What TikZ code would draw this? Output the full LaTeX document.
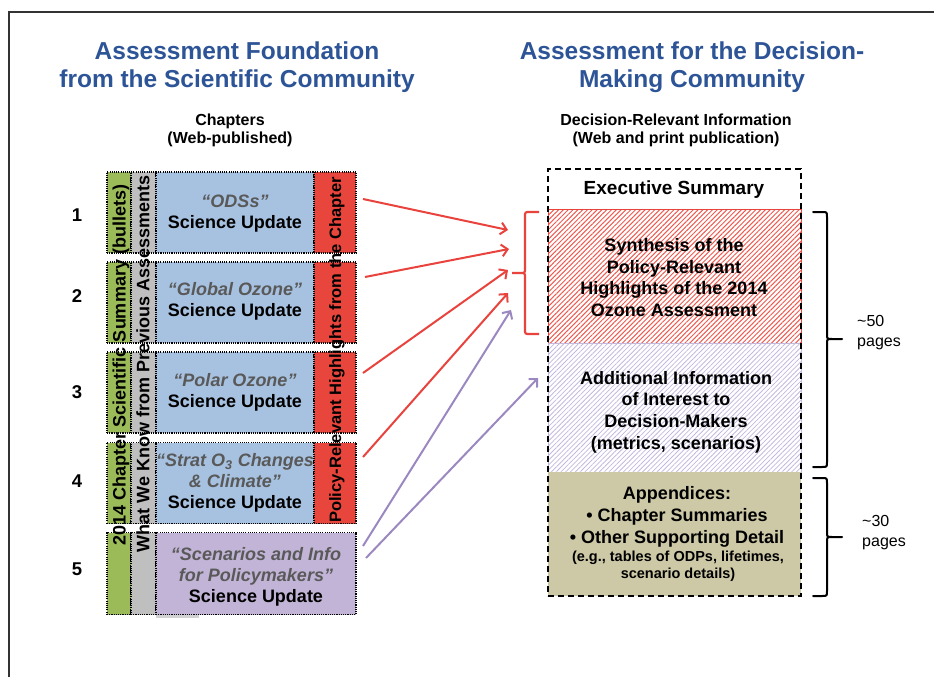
\documentclass[tikz,border=0pt]{standalone}
\usepackage{fontspec}
\setmainfont{Liberation Sans}
\usetikzlibrary{arrows.meta,patterns.meta}
\definecolor{hblue}{RGB}{44,84,150}
\definecolor{cgreen}{RGB}{155,187,89}
\definecolor{cgray}{RGB}{191,191,191}
\definecolor{cblue}{RGB}{167,194,224}
\definecolor{cred}{RGB}{232,69,60}
\definecolor{cpurple}{RGB}{194,180,214}
\definecolor{ctan}{RGB}{205,201,166}
\definecolor{arred}{RGB}{232,67,61}
\definecolor{hatchred}{RGB}{236,90,80}
\definecolor{arpurple}{RGB}{155,136,192}
\definecolor{hatchpurple}{RGB}{196,184,222}
\definecolor{qgray}{RGB}{89,89,89}
\begin{document}
\begin{tikzpicture}[x=1pt,y=-1pt,
  seg/.style={draw=black, line width=1.1pt, dash pattern=on 1.1pt off 1.1pt,
    inner sep=0pt, outer sep=0pt, minimum height=81pt},
  gseg/.style={seg, fill=cgreen, minimum width=24pt},
  yseg/.style={seg, fill=cgray, minimum width=25pt},
  bseg/.style={seg, fill=cblue, minimum width=158pt},
  rseg/.style={seg, fill=cred, minimum width=42pt},
  pseg/.style={seg, fill=cpurple, minimum width=200pt, minimum height=82pt},
  heading/.style={text=hblue, font=\fontsize{24.5}{28}\selectfont\bfseries, align=center},
  subhead/.style={font=\fontsize{16}{18}\selectfont\bfseries, align=center},
  num/.style={font=\fontsize{18.5}{20}\selectfont\bfseries},
  boxtxt/.style={font=\fontsize{18}{21}\selectfont\bfseries, align=center, inner sep=0pt},
  vtxt/.style={rotate=90, font=\fontsize{18}{21}\selectfont\bfseries, inner sep=0pt},
  rtxt/.style={font=\fontsize{18}{21.7}\selectfont\bfseries, align=center, inner sep=0pt},
  smalltxt/.style={font=\fontsize{14.5}{17}\selectfont\bfseries, align=center, inner sep=0pt},
  pages/.style={font=\fontsize{16}{20}\selectfont, align=left, anchor=west, inner sep=0pt},
  redarrow/.style={draw=arred, line width=2pt, -{Straight Barb[length=6pt,width=12pt]}},
  purarrow/.style={draw=arpurple, line width=2pt, -{Straight Barb[length=6pt,width=12pt]}},
  brace/.style={line width=2pt, line cap=round},
  rbox/.style={inner sep=0pt, outer sep=0pt, minimum width=253pt}
]
\useasboundingbox (0,0) rectangle (934,677);
% frame
\draw[line width=1.5pt, black!80] (9,677) -- (9,12) -- (934,12);

% headings
\node[heading] (hl) at (237,67) {Assessment Foundation\\from the Scientific Community};
\node[heading] (hr) at (692,67) {Assessment for the Decision-\\Making Community};
\node[subhead] (sl) at (230,130.5) {Chapters\\(Web-published)};
\node[subhead] (sr) at (676,130.5) {Decision-Relevant Information\\(Web and print publication)};

% chapter rows
\fill[gray!35] (156,614) rectangle (199,618);
\foreach \r/\cy in {1/212.5,2/302.5,3/392.5,4/483}{
  \node[gseg] (g\r) at (119,\cy) {};
  \node[yseg] (y\r) at (143.5,\cy) {};
  \node[bseg] (b\r) at (235,\cy) {};
  \node[rseg] (r\r) at (335,\cy) {};
}
\node[gseg, minimum height=82pt] (g5) at (119,573.5) {};
\node[yseg, minimum height=82pt] (y5) at (143.5,573.5) {};
\node[pseg] (p5) at (256,573.5) {};

% numbers
\node[num] (n1) at (77,215) {1};
\node[num] (n2) at (77,296) {2};
\node[num] (n3) at (77,392) {3};
\node[num] (n4) at (77,481) {4};
\node[num] (n5) at (77,569) {5};

% blue box texts
\node[boxtxt] (t1) at (235,214) {{\color{qgray}\itshape “ODSs”}\\Science Update};
\node[boxtxt] (t2) at (235,301) {{\color{qgray}\itshape “Global Ozone”}\\Science Update};
\node[boxtxt] (t3) at (235,392) {{\color{qgray}\itshape “Polar Ozone”}\\Science Update};
\node[boxtxt] (t4) at (235,482.5) {{\color{qgray}\itshape “Strat O\textsubscript{3} Changes}\\{\color{qgray}\itshape \& Climate”}\\Science Update};
\node[boxtxt] (t5) at (256,577) {{\color{qgray}\itshape “Scenarios and Info}\\{\color{qgray}\itshape for Policymakers”}\\Science Update};

% vertical texts
\node[vtxt] (vg) at (121,365) {2014 Chapter Scientific Summary (bullets)};
\node[vtxt] (vy) at (143,364) {What We Know from Previous Assessments};
\node[vtxt, font=\fontsize{16.5}{19}\selectfont\bfseries] (vr) at (337,350) {Policy-Relevant Highlights from the Chapter};

% right column
\node[rbox, minimum height=134pt, pattern={Lines[angle=45,distance=3.4pt,line width=1pt]}, pattern color=hatchred] (syn) at (674.5,276) {};
\draw[arred, line width=0.8pt] (syn.south west) rectangle (syn.north east);
\node[rbox, minimum height=129pt, pattern={Lines[angle=45,distance=3.4pt,line width=0.8pt]}, pattern color=hatchpurple] (add) at (674.5,407.5) {};
\draw[hatchpurple, line width=0.8pt] (add.south west) rectangle (add.north east);
\node[rbox, minimum height=124pt, fill=ctan] (app) at (674.5,534) {};
\node[rbox, minimum height=427pt, draw=black, line width=1.6pt, dash pattern=on 6pt off 4pt] (exec) at (674.5,382.5) {};

\node[boxtxt, font=\fontsize{19}{22}\selectfont\bfseries] (et) at (674,190) {Executive Summary};
\node[rtxt] (st) at (674,277.5) {Synthesis of the\\Policy-Relevant\\Highlights of the 2014\\Ozone Assessment};
\node[rtxt] (at) at (676,412) {Additional Information\\of Interest to\\Decision-Makers\\(metrics, scenarios)};
\node[rtxt] (pt) at (677,517) {Appendices:\\• Chapter Summaries\\• Other Supporting Detail};
\node[smalltxt] (pt2) at (678,566) {(e.g., tables of ODPs, lifetimes,\\scenario details)};

% red bracket
\draw[arred, line width=2.2pt] (539,212) -- (530,212) .. controls (525,212) .. (525,217) -- (525,268)
  .. controls (525,273) .. (520,273) -- (512,273)
  (520,273) .. controls (525,273) .. (525,278) -- (525,329) .. controls (525,334) .. (530,334) -- (539,334);

% black braces
\draw[brace] (813,212) -- (822,212) .. controls (827,212) .. (827,217) -- (827,334)
  .. controls (827,339) .. (832,339) -- (842,339)
  (832,339) .. controls (827,339) .. (827,344) -- (827,462) .. controls (827,467) .. (822,467) -- (813,467);
\draw[brace] (813,478) -- (822,478) .. controls (827,478) .. (827,483) -- (827,532)
  .. controls (827,537) .. (832,537) -- (842,537)
  (832,537) .. controls (827,537) .. (827,542) -- (827,591) .. controls (827,596) .. (822,596) -- (813,596);
\node[pages] (pg50) at (857,333) {\textasciitilde 50\\pages};
\node[pages] (pg30) at (862,533) {\textasciitilde 30\\pages};

% arrows
\coordinate (s1) at (363,199); \coordinate (e1) at (508,230);
\coordinate (s2) at (365,277); \coordinate (e2) at (509,249);
\coordinate (s3) at (363,373); \coordinate (e3) at (508,270);
\coordinate (s4) at (363,457); \coordinate (e4) at (508,293);
\coordinate (s5) at (363,546); \coordinate (e5) at (511,310);
\coordinate (s6) at (366,558); \coordinate (e6) at (538,378);
\draw[redarrow] (s1) -- (e1);
\draw[redarrow] (s2) -- (e2);
\draw[redarrow] (s3) -- (e3);
\draw[redarrow] (s4) -- (e4);
\draw[purarrow] (s5) -- (e5);
\draw[purarrow] (s6) -- (e6);
\end{tikzpicture}
\end{document}
